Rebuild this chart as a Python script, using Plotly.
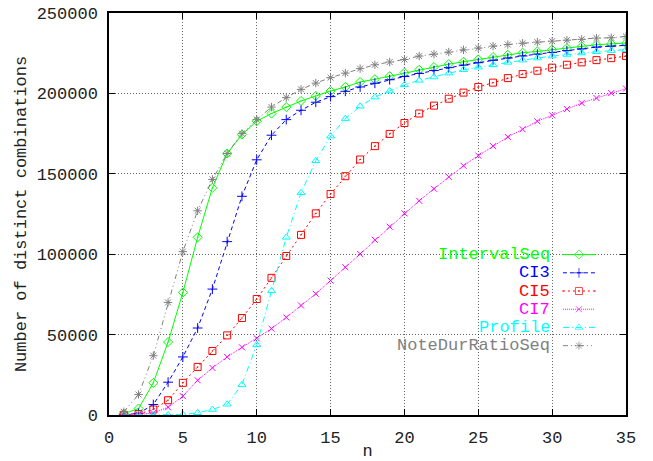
import plotly.graph_objects as go

n = list(range(1, 36))

interval_seq = [800, 4000, 20000, 45400, 76200, 110500, 141300, 162600, 174400, 182700,
                187500, 191500, 195300, 198400, 201500, 204000, 207100, 208800, 210700, 212900,
                214700, 216400, 218200, 219700, 221100, 222600, 224000, 225300, 226100, 227200,
                228200, 229200, 230300, 230800, 231300]
ci3 = [100, 1000, 6500, 20400, 36100, 54100, 78300, 107800, 136000, 158700,
       174000, 183700, 189500, 194500, 198000, 201300, 204000, 206300, 208500, 210500,
       212400, 214200, 216000, 217600, 219100, 220600, 222000, 223300, 224400, 225500,
       226600, 227700, 228800, 229400, 229900]
ci5 = [100, 600, 3400, 9200, 20000, 29900, 39800, 49500, 60300, 72100,
       85300, 98900, 112000, 125400, 137400, 148500, 158900, 167200, 174800, 181600,
       187500, 192400, 196700, 200500, 204000, 206700, 209500, 212000, 214100, 216000,
       217800, 219300, 220700, 221900, 223200]
ci7 = [50, 300, 1300, 4800, 11700, 21600, 29300, 36100, 42100, 47700,
       53700, 60700, 68100, 75400, 83600, 91900, 100200, 108900, 117100, 125400,
       133200, 140700, 148100, 155000, 161300, 167200, 172900, 177700, 182700, 186400,
       190300, 194000, 197100, 200200, 203000]
profile = [0, 0, 0, 100, 300, 1400, 3400, 6700, 18900, 43700,
           77200, 110500, 138200, 158100, 173400, 184300, 192000, 197700, 201500, 205400,
           208100, 210200, 212600, 214700, 216300, 217800, 219300, 220700, 222000, 223200,
           224200, 225100, 225900, 226600, 227200]
note_dur = [2000, 12700, 36900, 70000, 101600, 127000, 146500, 162600, 175000, 183700,
            191500, 197400, 202500, 206400, 209800, 212600, 215400, 217800, 219500, 221100,
            223200, 224400, 225700, 227100, 228200, 229400, 230400, 231200, 231900, 232500,
            233100, 233600, 234400, 234600, 235400]

series_names = ["IntervalSeq", "CI3", "CI5", "CI7", "Profile", "NoteDurRatioSeq"]
series_values = [interval_seq, ci3, ci5, ci7, profile, note_dur]
colors = ["#00ff00", "#0000ff", "#ff0000", "#ff00ff", "#00ffff", "#808080"]
dashes = ["solid", "4px,3px", "2px,3px", "1px,1px", "6px,3px,1px,3px", "5px,3px,1px,3px,1px,3px"]
symbols = ["diamond-open-dot", "cross-thin-open", "square-open-dot", "x-thin-open",
           "triangle-up-open", "asterisk-open"]
sizes = [7, 7, 7, 6, 7, 7]

FONT = "Liberation Mono"

fig = go.Figure()
for name, vals, c, d, s, sz in zip(series_names, series_values, colors, dashes, symbols, sizes):
    fig.add_trace(go.Scatter(
        x=n, y=vals, mode="lines+markers", name=name, showlegend=False,
        line=dict(color=c, width=1, dash=d),
        marker=dict(symbol=s, size=sz, color=c, line=dict(color=c, width=1)),
    ))

# gnuplot-style legend: right-aligned text followed by a line sample
leg_top = 0.399
leg_step = 0.0453
for i, (name, c, d, s, sz) in enumerate(zip(series_names, colors, dashes, symbols, sizes)):
    yy = leg_top - i * leg_step
    fig.add_annotation(x=0.857, y=yy, xref="paper", yref="paper", text=name,
                       showarrow=False, xanchor="right", yanchor="middle",
                       font=dict(family=FONT, size=17, color=c))
    fig.add_trace(go.Scatter(
        x=[0.878, 0.909, 0.940], y=[yy, yy, yy], xaxis="x2", yaxis="y2",
        mode="lines+markers", showlegend=False, hoverinfo="skip",
        line=dict(color=c, width=1, dash=d),
        marker=dict(symbol=s, size=[0, sz, 0], color=c, line=dict(color=c, width=1)),
    ))

grid = dict(showgrid=True, gridcolor="rgba(0,0,0,0.6)", griddash="1px,2px", gridwidth=1)

fig.update_layout(
    width=653, height=461,
    margin=dict(l=109, r=27, t=13, b=46),
    paper_bgcolor="white", plot_bgcolor="white",
    font=dict(family=FONT, size=17, color="#222222"),
    xaxis=dict(range=[0, 35], tickvals=[0, 5, 10, 15, 20, 25, 30, 35],
               ticks="inside", ticklen=6, tickcolor="black",
               showline=True, linecolor="black", linewidth=1.5, mirror="ticks",
               zeroline=False, ticklabelstandoff=6, automargin=False,
               title=dict(text="n", font=dict(family=FONT, size=17), standoff=7),
               **grid),
    yaxis=dict(range=[0, 250000], tickvals=[0, 50000, 100000, 150000, 200000, 250000],
               tickformat="d",
               ticks="inside", ticklen=6, tickcolor="black",
               showline=True, linecolor="black", linewidth=1.5, mirror="ticks",
               zeroline=False, ticklabelstandoff=6, automargin=False,
               title=dict(text="Number of distinct combinations",
                          font=dict(family=FONT, size=17), standoff=6),
               **grid),
    xaxis2=dict(overlaying="x", range=[0, 1], visible=False, fixedrange=True),
    yaxis2=dict(overlaying="y", range=[0, 1], visible=False, fixedrange=True),
)

fig.write_html("out.html")
